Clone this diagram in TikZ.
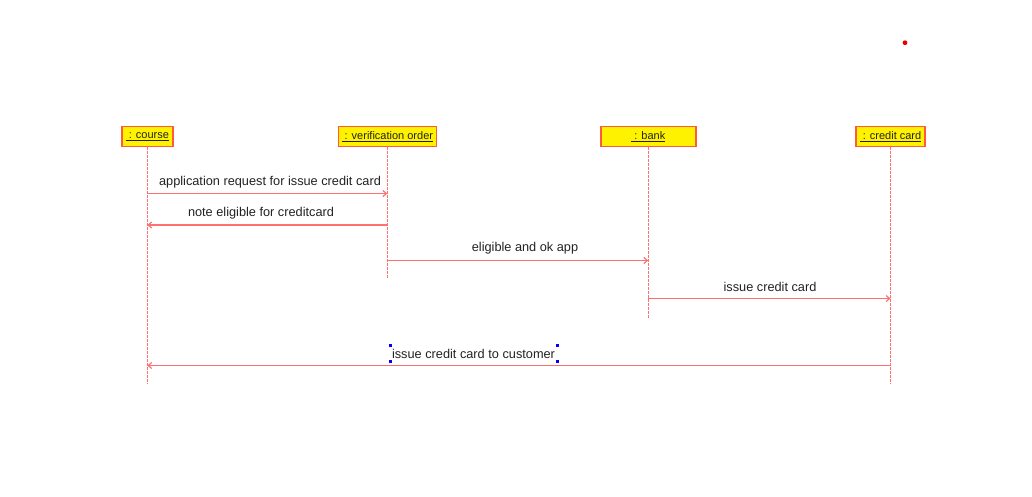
\documentclass[tikz,border=0pt]{standalone}
\usepackage{fontspec}
\setmainfont{Liberation Sans}
\usetikzlibrary{arrows.meta}
\definecolor{lline}{HTML}{FF7070}
\definecolor{bborder}{HTML}{FF5A3C}
\definecolor{txt}{HTML}{222222}
\tikzset{
  objbox/.style={draw=bborder, line width=1.5pt, fill=yellow, minimum height=20pt, inner sep=0pt, text=txt, font=\fontsize{11}{13}\selectfont},
  lifeline/.style={draw=lline, dashed, dash pattern=on 2.5pt off 1.5pt, line width=1pt},
  msg/.style={draw=lline, line width=1.2pt, -{Straight Barb[length=3.5pt,width=6pt]}},
  msglabel/.style={text=txt, font=\fontsize{12.75}{15}\selectfont, inner sep=0pt},
  handle/.style={fill=blue, draw=none, minimum size=3pt, inner sep=0pt}
}
\begin{document}
\begin{tikzpicture}[x=1pt,y=-1pt]
\useasboundingbox (0,0) rectangle (1032,496);
% objects
\node[objbox, minimum width=51pt] (course) at (147.3,136.5) {\underline{\ : course}};
\node[objbox, minimum width=98pt] (verif) at (387.3,136.5) {\underline{\ : verification order}};
\node[objbox, minimum width=95pt] (bank) at (648.3,136.5) {\underline{\ : bank}};
\node[objbox, minimum width=69pt] (card) at (890.5,136.5) {\underline{\ : credit card}};
% lifeline ends
\coordinate (courseEnd) at (147.3,384);
\coordinate (verifEnd) at (387.3,278);
\coordinate (bankEnd) at (648.3,318);
\coordinate (cardEnd) at (890.5,384);
\draw[lifeline] (course.south) -- (courseEnd);
\draw[lifeline] (verif.south) -- (verifEnd);
\draw[lifeline] (bank.south) -- (bankEnd);
\draw[lifeline] (card.south) -- (cardEnd);
% message points
\coordinate (c1) at (147.3,193.5);
\coordinate (v1) at (387.3,193.5);
\coordinate (v2) at (387.3,225);
\coordinate (c2) at (147.3,225);
\coordinate (v3) at (387.3,260.5);
\coordinate (b3) at (648.3,260.5);
\coordinate (b4) at (648.3,298.5);
\coordinate (k4) at (890.5,298.5);
\coordinate (k5) at (890.5,365.5);
\coordinate (c5) at (147.3,365.5);
\draw[msg] (c1) -- (v1);
\draw[msg] (v2) -- (c2);
\draw[msg] (v3) -- (b3);
\draw[msg] (b4) -- (k4);
\draw[msg] (k5) -- (c5);
% labels
\node[msglabel] (l1) at (270,182) {application request for issue credit card};
\node[msglabel] (l2) at (261,213) {note eligible for creditcard};
\node[msglabel] (l3) at (525,248) {eligible and ok app};
\node[msglabel] (l4) at (770,287) {issue credit card};
\node[msglabel] (l5) at (473.5,354) {issue credit card to customer};
% selection handles
\node[handle] (h1) at (390.5,345.5) {};
\node[handle] (h2) at (557,345.5) {};
\node[handle] (h3) at (390.5,361.5) {};
\node[handle] (h4) at (557,361.5) {};
% red dot
\fill[red!90!black] (905,42.7) circle (2.4pt);
\end{tikzpicture}
\end{document}
